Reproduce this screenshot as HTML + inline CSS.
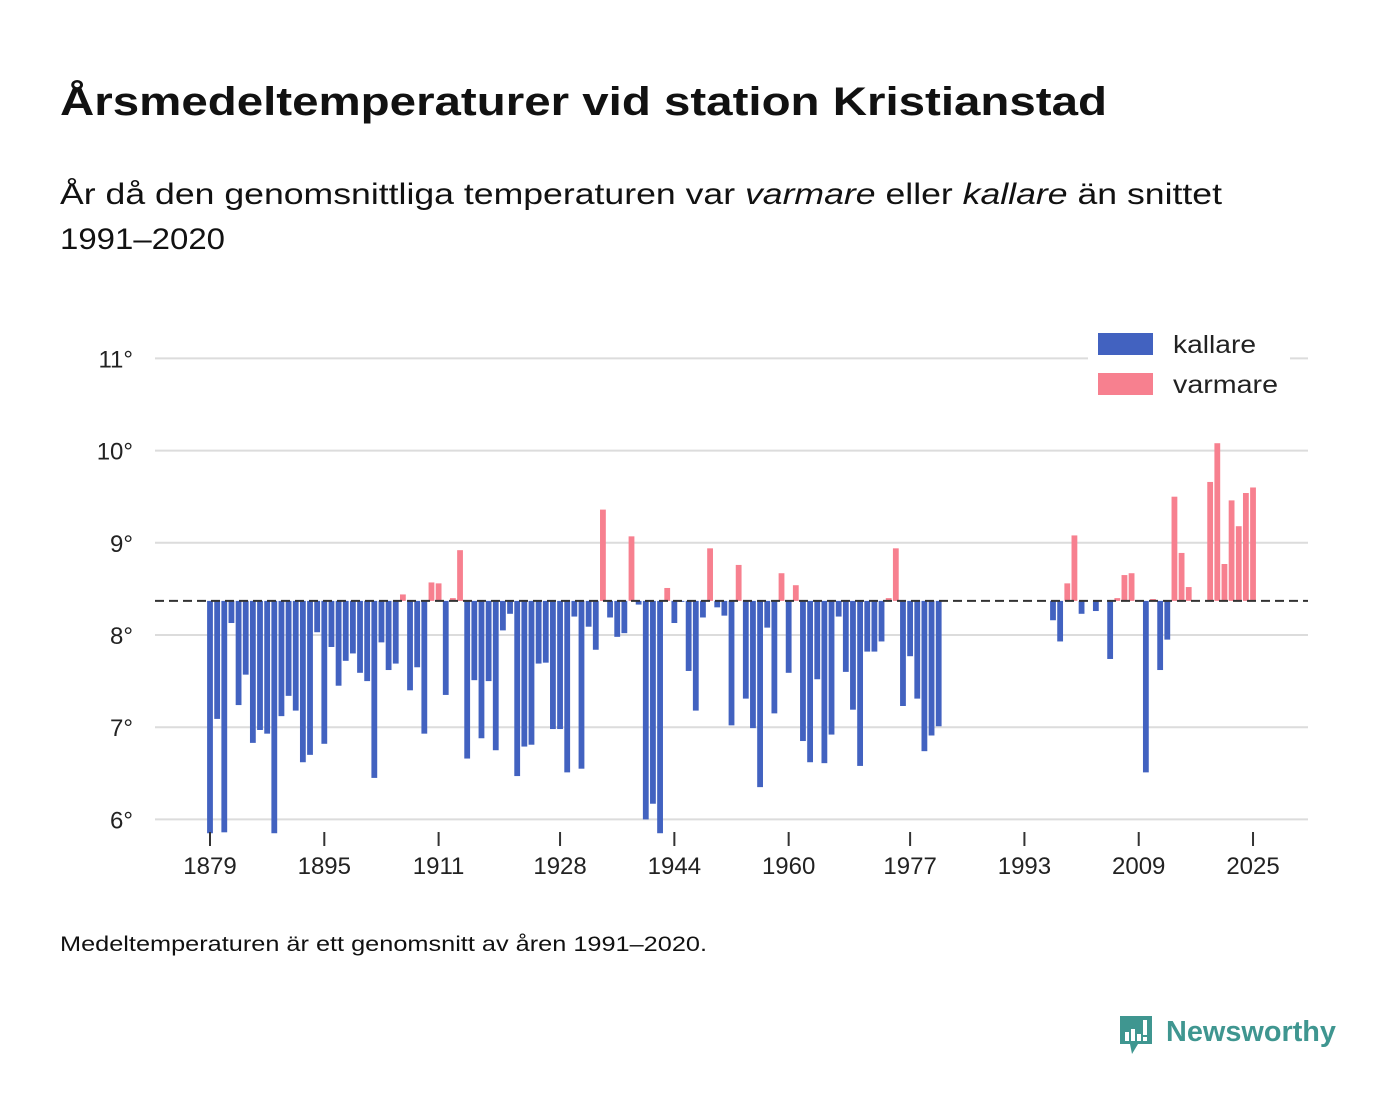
<!DOCTYPE html>
<html><head><meta charset="utf-8">
<style>
body{margin:0;background:#fff;font-family:"Liberation Sans",sans-serif;}
#wrap{position:relative;width:1400px;height:1116px;overflow:hidden;}
svg text{font-family:"Liberation Sans",sans-serif;}
</style></head>
<body>
<div id="wrap">
<svg id="chart" width="1400" height="1116">
<text x="60" y="115" font-size="40" font-weight="bold" fill="#111" textLength="1047" lengthAdjust="spacingAndGlyphs">Årsmedeltemperaturer vid station Kristianstad</text>
<text x="60" y="204" font-size="30" fill="#111" textLength="1162" lengthAdjust="spacingAndGlyphs">År då den genomsnittliga temperaturen var <tspan font-style="italic">varmare</tspan> eller <tspan font-style="italic">kallare</tspan> än snittet</text>
<text x="60" y="249" font-size="30" fill="#111" textLength="165" lengthAdjust="spacingAndGlyphs">1991–2020</text>
<g id="grid"></g>
<g id="bars"></g>
<g id="xaxis"></g>
<line id="baseline" stroke="#333" stroke-width="2" stroke-dasharray="9,5"></line>
<g>
<rect x="1088" y="330" width="202" height="72" fill="#fff"></rect>
<rect x="1098" y="333" width="55" height="22" fill="#4262c0"></rect>
<text x="1173" y="353" font-size="25" fill="#222" textLength="83" lengthAdjust="spacingAndGlyphs">kallare</text>
<rect x="1098" y="373" width="55" height="22" fill="#f7808f"></rect>
<text x="1173" y="393" font-size="25" fill="#222" textLength="105" lengthAdjust="spacingAndGlyphs">varmare</text>
</g>
<text x="60" y="951" font-size="21" fill="#111" textLength="647" lengthAdjust="spacingAndGlyphs">Medeltemperaturen är ett genomsnitt av åren 1991–2020.</text>
<g>
<path d="M1120 1016 h32 v28 h-14 l-6 10 l-2 -10 h-10 z" fill="#3f9690"></path>
<rect x="1125" y="1032" width="4" height="9" fill="#fff"></rect>
<rect x="1131" y="1029" width="4" height="12" fill="#fff"></rect>
<rect x="1137" y="1034" width="4" height="7" fill="#fff"></rect>
<rect x="1143" y="1020" width="4" height="15" fill="#fff"></rect>
<rect x="1143" y="1037" width="4" height="4" fill="#fff"></rect>
<text x="1166" y="1041" font-size="29" font-weight="bold" fill="#3f9690" textLength="170" lengthAdjust="spacingAndGlyphs">Newsworthy</text>
</g>
</svg>
</div>
<script>
const startYear = 1879;
const temps = [
5.85,7.09,5.86,8.13,7.24,7.57,6.83,6.97,6.93,5.85,
7.12,7.34,7.18,6.62,6.70,8.03,6.82,7.87,7.45,7.72,
7.80,7.59,7.50,6.45,7.92,7.62,7.69,8.44,7.40,7.65,
6.93,8.57,8.56,7.35,8.40,8.92,6.66,7.51,6.88,7.50,
6.75,8.05,8.23,6.47,6.79,6.81,7.69,7.70,6.98,6.98,
6.51,8.20,6.55,8.09,7.84,9.36,8.19,7.98,8.02,9.07,
8.33,6.00,6.17,5.85,8.51,8.13,8.36,7.61,7.18,8.19,
8.94,8.30,8.21,7.02,8.76,7.31,6.99,6.35,8.08,7.15,
8.67,7.59,8.54,6.85,6.62,7.52,6.61,6.92,8.20,7.60,
7.19,6.58,7.82,7.82,7.93,8.40,8.94,7.23,7.77,7.31,
6.74,6.91,7.01,
null,null,null,null,null,null,null,null,null,null,null,null,null,null,null,
8.16,7.93,8.56,9.08,8.23,null,8.26,null,7.74,8.40,
8.65,8.67,null,6.51,8.39,7.62,7.95,9.50,8.89,8.52,
null,null,9.66,10.08,8.77,9.46,9.18,9.54,9.60
];
const average = 8.37;
const yTicks = [6,7,8,9,10,11];
const xTickYears = [1879,1895,1911,1928,1944,1960,1977,1993,2009,2025];

const NS='http://www.w3.org/2000/svg';
const xScale = yr => 210 + (yr-1879)*7.144;
const yScale = v => 635 - (v-8)*92.2;
const mk = (t,a,p)=>{const e=document.createElementNS(NS,t);for(const k in a)e.setAttribute(k,a[k]);p.appendChild(e);return e;};

const grid=document.getElementById('grid');
yTicks.forEach(t=>{
  const l=mk('line',{x1:155,x2:1308,y1:yScale(t),y2:yScale(t),stroke:'#dcdcdc','stroke-width':2},grid);
  
  
  const tx=mk('text',{x:133,y:yScale(t)+9,'font-size':24,fill:'#222','text-anchor':'end'},grid);
  tx.textContent=t+'°';
  
  
});
const xa=document.getElementById('xaxis');
xTickYears.forEach(y=>{
  const l=mk('line',{x1:xScale(y),x2:xScale(y),y1:832,y2:846,stroke:'#333','stroke-width':2},xa);
  
  
  const tx=mk('text',{x:xScale(y),y:874,'font-size':24,fill:'#222','text-anchor':'middle'},xa);
  tx.textContent=y;
  
  
});
const bars=document.getElementById('bars');
temps.forEach((v,i)=>{
  if(v===null)return;
  const yr=startYear+i;
  const y0=yScale(average), y1=yScale(v);
  const r=mk('rect',{x:xScale(yr)-2.9,width:5.8,y:Math.min(y0,y1),height:Math.max(0.5,Math.abs(y1-y0)),fill:v>=average?'#f7808f':'#4262c0'},bars);
  
  
});
const bl=document.getElementById('baseline');
bl.setAttribute('x1',155);bl.setAttribute('x2',1308);
bl.setAttribute('y1',yScale(average));bl.setAttribute('y2',yScale(average));
</script>
</body></html>
